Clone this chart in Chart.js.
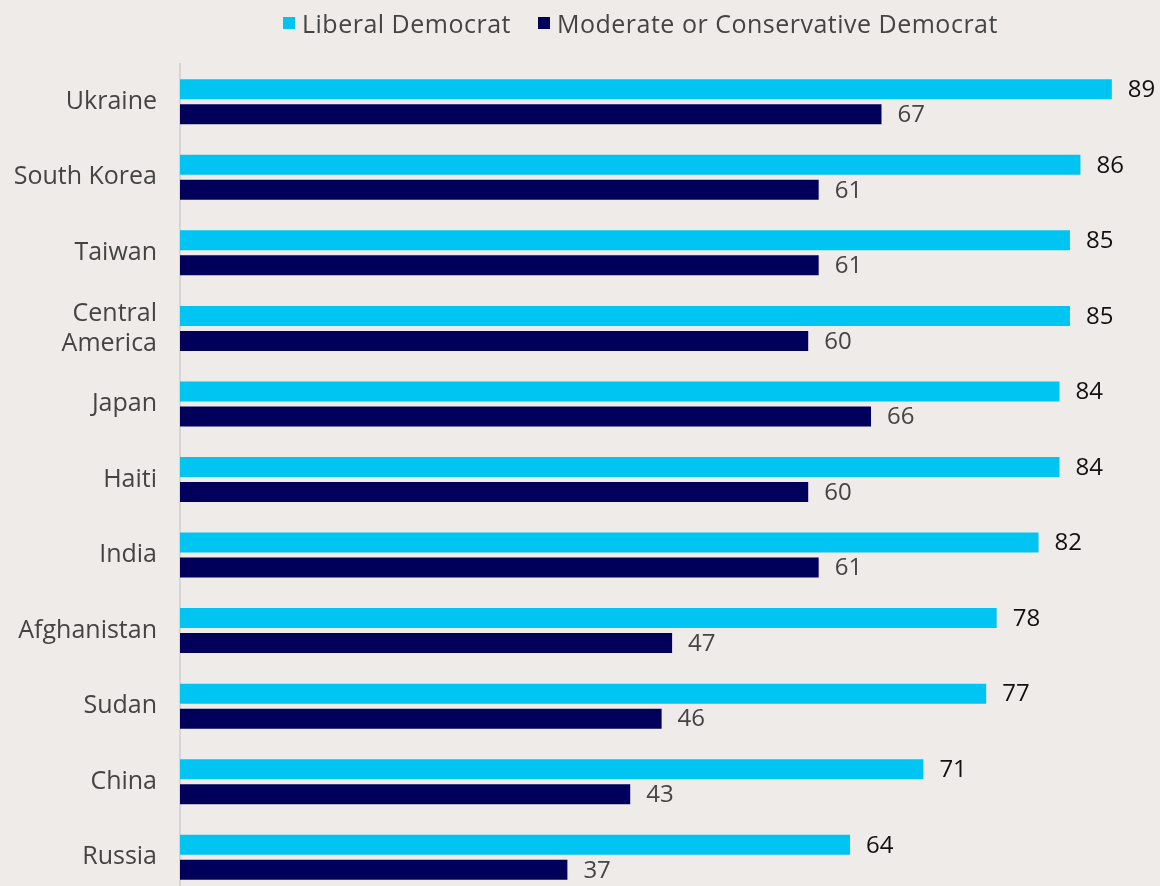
<!DOCTYPE html>
<html>
<head>
<meta charset="utf-8">
<title>Liberal vs moderate Democrats</title>
<script src="https://cdn.jsdelivr.net/npm/chart.js@4.4.1/dist/chart.umd.min.js"></script>
<style>
  html, body { margin: 0; padding: 0; background: #efebe8; overflow: hidden; }
  #wrap { position: relative; width: 1160px; height: 895px; }
  #legend {
    position: absolute; top: 6px; left: 283px;
    display: flex; align-items: center;
    font-family: "Open Sans", sans-serif; font-size: 25px; color: #444;
    letter-spacing: 0.5px;
  }
  #legend .item { display: flex; align-items: center; margin-right: 27px; }
  #legend .swatch { width: 12px; height: 12px; margin-right: 7px; }
</style>
</head>
<body>
<div id="wrap">
  <div id="legend"></div>
  <canvas id="chart" width="1160" height="895"></canvas>
</div>
<script>
const countries = ["Ukraine", "South Korea", "Taiwan", ["Central", "America"], "Japan",
                   "Haiti", "India", "Afghanistan", "Sudan", "China", "Russia"];
const liberal = [89, 86, 85, 85, 84, 84, 82, 78, 77, 71, 64];
const moderate = [67, 61, 61, 60, 66, 60, 61, 47, 46, 43, 37];
const seriesNames = ["Liberal Democrat", "Moderate or Conservative Democrat"];

const barColors = ["#00c5f2", "#00005a"];
const valueColors = ["#111111", "#444444"];

// legend row above the plot
const legendEl = document.getElementById("legend");
seriesNames.forEach(function (name, i) {
    const item = document.createElement("div");
    item.className = "item";
    const sw = document.createElement("span");
    sw.className = "swatch";
    sw.style.background = barColors[i];
    item.appendChild(sw);
    item.appendChild(document.createTextNode(name));
    legendEl.appendChild(item);
});

// numbers written just past the end of each bar
const barValueLabels = {
    id: "barValueLabels",
    afterDatasetsDraw(chart) {
        const ctx = chart.ctx;
        ctx.save();
        ctx.font = '24px "Open Sans"';
        ctx.textAlign = "left";
        ctx.textBaseline = "middle";
        chart.data.datasets.forEach(function (ds, i) {
            ctx.fillStyle = valueColors[i];
            chart.getDatasetMeta(i).data.forEach(function (bar, j) {
                ctx.fillText(ds.data[j], bar.x + 16, bar.y + 1);
            });
        });
        ctx.restore();
    }
};

new Chart(document.getElementById("chart"), {
    type: "bar",
    data: {
        labels: countries,
        datasets: [{
            label: seriesNames[0],
            data: liberal,
            backgroundColor: barColors[0]
        }, {
            label: seriesNames[1],
            data: moderate,
            backgroundColor: barColors[1]
        }]
    },
    options: {
        indexAxis: "y",
        responsive: false,
        animation: false,
        categoryPercentage: 0.662,
        barPercentage: 0.8,
        layout: { padding: { top: 64, right: 0, bottom: 0, left: 0 } },
        plugins: {
            legend: { display: false },
            tooltip: { enabled: false }
        },
        scales: {
            x: {
                display: false,
                min: 0,
                max: 93.6
            },
            y: {
                grid: { display: false, drawTicks: false },
                border: { display: true, color: "#d6d6d6", width: 2 },
                ticks: {
                    color: "#444",
                    padding: 23,
                    font: { family: "Open Sans", size: 25 }
                },
                afterFit(scale) {
                    // fixed gutter for the country names, no extra room above/below
                    scale.width = 180;
                    scale.paddingTop = 0;
                    scale.paddingBottom = 0;
                }
            }
        }
    },
    plugins: [barValueLabels]
});
</script>
</body>
</html>
